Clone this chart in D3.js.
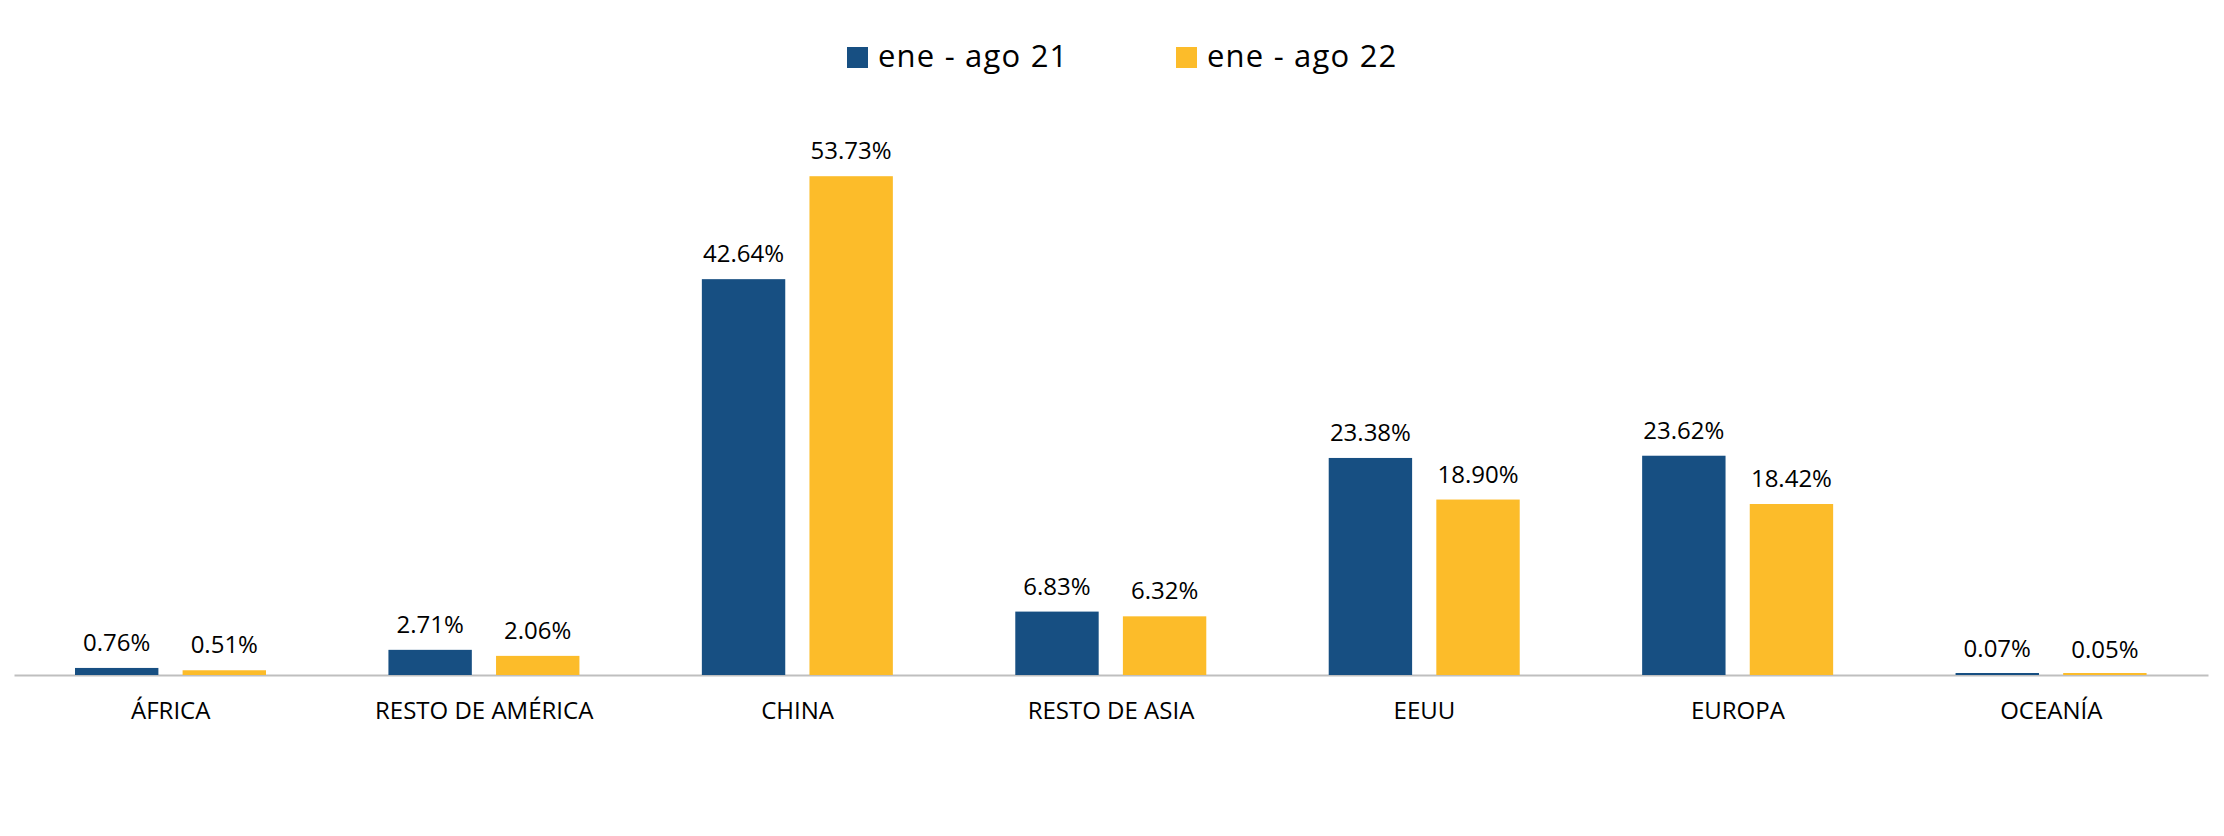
<!DOCTYPE html>
<html>
<head>
<meta charset="utf-8">
<script src="https://cdn.jsdelivr.net/npm/d3@7"></script>
<style>
  html, body { margin: 0; padding: 0; background: #fff; }
  svg { display: block; }
  text { font-family: "Open Sans", "Noto Sans", sans-serif; fill: #000; }
</style>
</head>
<body>
<svg id="chart" width="2224" height="836"></svg>
<script>
const categories = ["ÁFRICA", "RESTO DE AMÉRICA", "CHINA", "RESTO DE ASIA", "EEUU", "EUROPA", "OCEANÍA"];
const seriesNames = ["ene - ago 21", "ene - ago 22"];
const values21 = [0.76, 2.71, 42.64, 6.83, 23.38, 23.62, 0.07];
const values22 = [0.51, 2.06, 53.73, 6.32, 18.90, 18.42, 0.05];
const colors = ["#174f82", "#fcbc2a"];

const seriesValues = [values21, values22];
const svg = d3.select("#chart");

const x0 = d3.scaleBand().domain(categories).range([14, 2208]).padding(0);
const x1 = d3.scaleBand().domain(seriesNames).range([61, 252]).paddingInner(0.225).paddingOuter(0);
const y = d3.scaleLinear().domain([0, 60]).range([675, 118]);

// axis (drawn first so tiny bars stay visible on top)
const axis = svg.append("g")
  .attr("transform", `translate(0,${y(0)})`)
  .call(d3.axisBottom(x0).tickSize(0).tickPadding(0));
axis.select(".domain").attr("stroke", "#bfbfbf").attr("stroke-width", 2);
axis.selectAll(".tick text")
  .attr("font-size", 24)
  .attr("fill", "#000")
  .attr("font-family", "'Open Sans', 'Noto Sans', sans-serif")
  .attr("dy", 0)
  .attr("y", 44);

// bars
const groups = svg.append("g").selectAll("g")
  .data(categories)
  .join("g")
  .attr("transform", d => `translate(${x0(d)},0)`);

const minH = 2;
groups.selectAll("rect")
  .data((c, i) => seriesNames.map((s, k) => ({ s, k, v: seriesValues[k][i] })))
  .join("rect")
  .attr("x", d => x1(d.s))
  .attr("width", x1.bandwidth())
  .attr("y", d => Math.min(y(d.v), y(0) - minH))
  .attr("height", d => Math.max(y(0) - y(d.v), minH))
  .attr("fill", d => colors[d.k]);

groups.selectAll("text.val")
  .data((c, i) => seriesNames.map((s, k) => ({ s, k, v: seriesValues[k][i] })))
  .join("text")
  .attr("class", "val")
  .attr("x", d => x1(d.s) + x1.bandwidth() / 2)
  .attr("y", d => y(d.v) - 17)
  .attr("text-anchor", "middle")
  .attr("font-size", 24)
  .text(d => d.v.toFixed(2) + "%");

// legend
const legendX = [847, 1176];
const legend = svg.append("g").selectAll("g")
  .data(seriesNames)
  .join("g")
  .attr("transform", (d, i) => `translate(${legendX[i]},47)`);
legend.append("rect")
  .attr("width", 21).attr("height", 21)
  .attr("fill", (d, i) => colors[i]);
legend.append("text")
  .attr("x", 31).attr("y", 20)
  .attr("font-size", 31)
  .attr("letter-spacing", 1.2)
  .text(d => d);
</script>
</body>
</html>
